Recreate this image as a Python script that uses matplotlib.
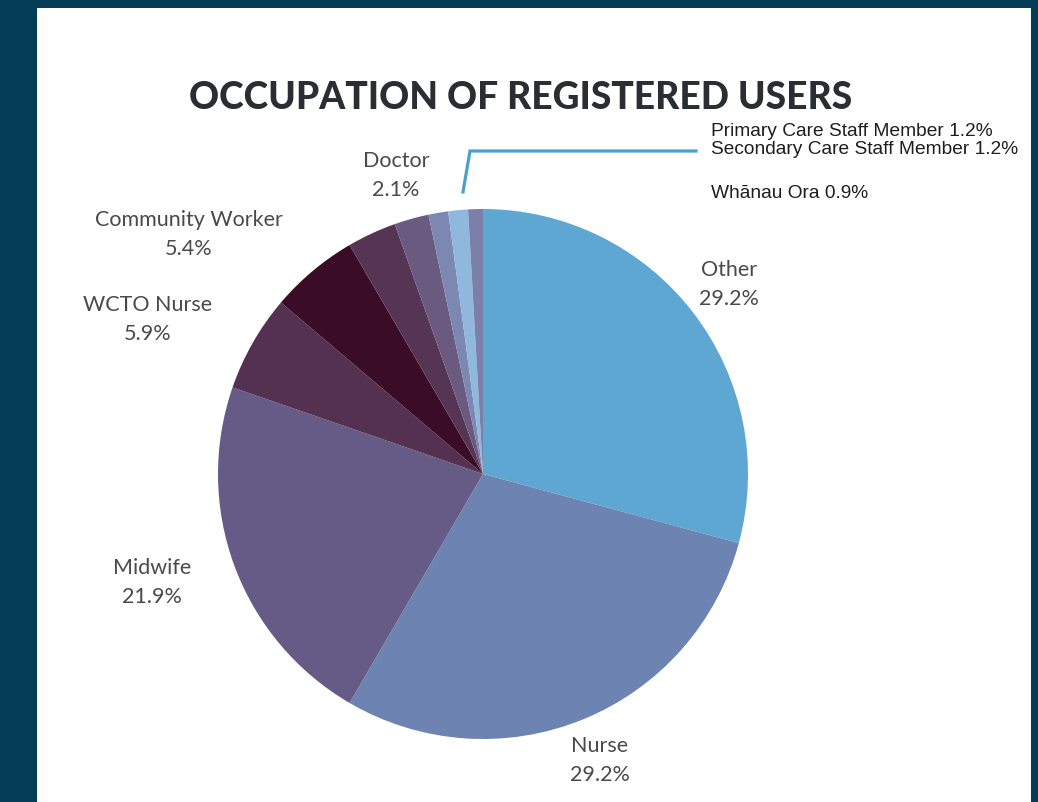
import matplotlib.pyplot as plt
from matplotlib.patches import Rectangle

# slices clockwise from 12 o'clock
labels = ['Other', 'Nurse', 'Midwife', 'WCTO Nurse', 'Community Worker', '',
          'Doctor', 'Primary Care Staff Member', 'Secondary Care Staff Member', 'Whānau Ora']
values = [29.2, 29.2, 21.9, 5.9, 5.4, 3.0, 2.1, 1.2, 1.2, 0.9]
colors = ['#5fa7d3', '#6d83b1', '#665a86', '#543150', '#3a0c28', '#553553',
          '#6b5a80', '#7d88b2', '#90b8dc', '#7a80aa']

W, H = 1038, 803
fig = plt.figure(figsize=(W / 100, H / 100), dpi=100)
fig.patch.set_facecolor('#053d57')
fig.patches.append(Rectangle((37 / W, 0), (1031 - 37) / W, 1 - 9 / H,
                             transform=fig.transFigure, facecolor='white',
                             edgecolor='none', zorder=-5))

cx, cy, r = 483, 475, 265
ax = fig.add_axes([(cx - r) / W, (H - cy - r) / H, 2 * r / W, 2 * r / H])
ax.set_zorder(2)
ax.pie(values, colors=colors, startangle=90, counterclock=False,
       wedgeprops=dict(linewidth=0))
ax.set_xlim(-1, 1)
ax.set_ylim(-1, 1)
ax.axis('off')


def px(x, y):
    return (x - cx) / r, (cy - y) / r


lato = dict(family='Lato', fontsize=15.5, color='#4a4a4a', ha='center', va='center')
side = [('Doctor', '2.1%', 396, 161),
        ('Community Worker', '5.4%', 189, 220),
        ('WCTO Nurse', '5.9%', 148, 305),
        ('Midwife', '21.9%', 152, 568),
        ('Other', '29.2%', 729, 270),
        ('Nurse', '29.2%', 600, 746)]
for name, pct, x, y in side:
    ax.text(*px(x, y), name, clip_on=False, **lato)
    ax.text(*px(x, y + 29), pct, clip_on=False, **lato)

arial = dict(family='Liberation Sans', fontsize=13.8, color='#1e1e1e', ha='left', va='center')
ax.text(*px(711, 131), 'Primary Care Staff Member 1.2%', clip_on=False, **arial)
ax.text(*px(711, 149), 'Secondary Care Staff Member 1.2%', clip_on=False, **arial)
ax.text(*px(711, 194), 'Whānau Ora 0.9%', clip_on=False, **arial)

lx, ly = zip(px(463, 193), px(470, 152), px(696, 152))
ax.plot(lx, ly, color='#4aa0c8', lw=2.3, clip_on=False, solid_joinstyle='miter')

fig.text(521 / W, 1 - 98 / H, 'OCCUPATION OF REGISTERED USERS', family='Lato',
         fontweight='black', fontsize=26.7, color='#2a2e33', ha='center', va='center')

plt.savefig('out.png', dpi=100)
